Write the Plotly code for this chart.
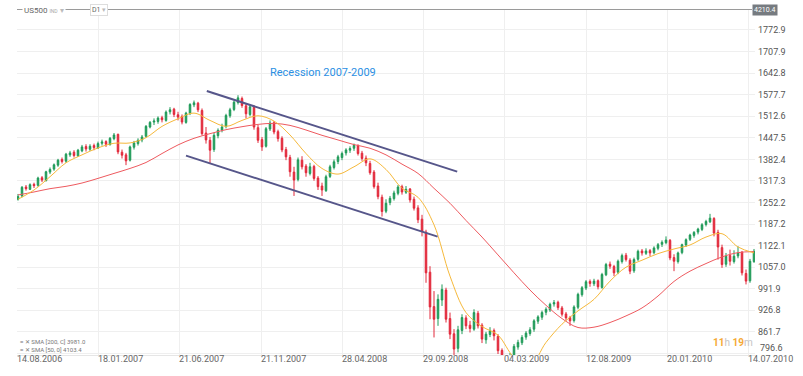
import plotly.graph_objects as go

W, H = 803, 376
L, R, T, B = 17, 48, 10, 21
PW = W - L - R
PH = H - T - B

opens = [1262,1272,1299,1292,1307,1304,1327,1318,1344,1353,
         1365,1382,1377,1396,1404,1393,1408,1421,1413,1424,
         1417,1431,1436,1427,1445,1458,1404,1396,1380,1419,
         1430,1441,1452,1480,1495,1497,1508,1500,1526,1534,
         1517,1512,1494,1521,1547,1552,1530,1462,1440,1412,
         1454,1471,1482,1514,1533,1554,1566,1544,1518,1540,
         1478,1442,1422,1474,1493,1466,1446,1412,1388,1344,
         1322,1380,1362,1340,1361,1326,1302,1288,1331,1358,
         1376,1388,1402,1410,1416,1424,1401,1386,1370,1344,
         1302,1268,1226,1252,1264,1280,1300,1283,1293,1262,
         1236,1202,1163,1042,938,902,958,988,902,856,
         812,866,904,882,870,918,882,838,854,866,
         848,806,762,742,788,816,829,846,857,870,
         894,906,921,928,946,951,934,916,905,896,
         936,974,994,1014,1007,1016,996,1034,1066,1059,
         1042,1074,1093,1078,1046,1081,1106,1099,1107,1101,
         1114,1126,1131,1138,1086,1074,1101,1124,1141,1153,
         1163,1171,1186,1194,1204,1162,1116,1066,1092,1074,
         1091,1102,1038,1016,1074]
highs = [1278,1302,1305,1310,1312,1330,1332,1348,1358,1370,
         1384,1388,1402,1408,1410,1414,1426,1428,1428,1430,
         1436,1442,1440,1450,1462,1460,1412,1402,1424,1438,
         1446,1456,1486,1498,1506,1512,1514,1530,1540,1538,
         1526,1518,1526,1552,1560,1556,1536,1480,1450,1462,
         1476,1490,1520,1538,1560,1576,1572,1550,1546,1545,
         1486,1450,1480,1500,1498,1472,1452,1420,1396,1360,
         1388,1392,1368,1372,1366,1332,1312,1336,1366,1382,
         1396,1406,1416,1422,1430,1428,1408,1394,1378,1350,
         1312,1276,1262,1272,1288,1305,1306,1302,1296,1270,
         1244,1215,1170,1060,985,975,1005,995,920,870,
         880,915,912,895,930,925,888,862,876,872,
         855,812,770,798,825,838,852,864,876,900,
         912,926,936,950,958,956,940,922,910,942,
         980,1000,1018,1020,1022,1020,1040,1070,1074,1064,
         1080,1098,1100,1084,1086,1110,1112,1114,1112,1120,
         1130,1138,1150,1142,1096,1104,1128,1144,1158,1166,
         1176,1190,1200,1218,1208,1170,1125,1100,1110,1108,
         1120,1106,1050,1082,1112]
lows = [1258,1268,1288,1290,1296,1300,1314,1316,1338,1348,
        1360,1370,1372,1390,1388,1390,1404,1406,1408,1410,
        1414,1424,1420,1424,1440,1398,1385,1365,1376,1412,
        1424,1434,1448,1476,1486,1490,1494,1496,1518,1510,
        1500,1488,1490,1516,1540,1525,1455,1430,1370,1405,
        1446,1464,1476,1508,1528,1548,1538,1506,1512,1472,
        1432,1408,1418,1468,1458,1436,1404,1380,1330,1272,
        1316,1352,1330,1334,1318,1290,1272,1284,1326,1352,
        1368,1380,1394,1402,1408,1394,1378,1362,1336,1294,
        1262,1210,1220,1244,1258,1274,1276,1278,1252,1228,
        1190,1150,1010,900,845,880,940,890,840,760,
        800,855,870,860,865,872,828,826,846,836,
        795,750,690,730,780,808,822,838,850,862,
        886,898,912,922,938,928,908,896,880,890,
        930,968,988,998,1000,990,992,1030,1052,1030,
        1036,1068,1074,1036,1040,1076,1092,1094,1090,1096,
        1108,1118,1126,1078,1045,1068,1096,1118,1136,1146,
        1156,1166,1180,1190,1150,1080,1055,1058,1062,1068,
        1084,1032,1005,1010,1070]
closes = [1270,1298,1294,1306,1303,1326,1320,1345,1352,1366,
          1380,1376,1398,1402,1394,1410,1420,1414,1422,1418,
          1430,1435,1428,1446,1456,1405,1395,1378,1420,1432,
          1440,1450,1482,1494,1498,1507,1502,1525,1532,1518,
          1510,1495,1522,1548,1553,1532,1460,1441,1410,1455,
          1470,1480,1515,1532,1555,1568,1545,1520,1541,1480,
          1440,1420,1475,1492,1465,1445,1411,1390,1345,1320,
          1381,1360,1342,1360,1325,1300,1290,1330,1360,1375,
          1390,1400,1411,1415,1425,1400,1385,1372,1342,1300,
          1270,1225,1250,1265,1281,1299,1284,1292,1260,1235,
          1200,1165,1040,937,900,960,990,900,855,810,
          868,905,880,872,920,880,840,855,865,850,
          805,760,740,790,818,830,845,858,868,895,
          907,920,930,945,950,935,915,904,895,937,
          975,995,1013,1008,1015,998,1035,1065,1060,1040,
          1075,1092,1080,1045,1080,1105,1100,1106,1100,1115,
          1125,1132,1139,1085,1075,1100,1125,1140,1154,1162,
          1172,1185,1195,1205,1160,1118,1065,1090,1075,1090,
          1100,1040,1015,1075,1105]

# SMA values sampled every 4 bars
sma200 = [1275,1284,1294,1301,1311,1325,1340,1355,1373,1400,
          1426,1446,1460,1472,1481,1488,1491,1485,1471,1455,
          1441,1427,1416,1396,1368,1340,1295,1250,1198,1148,
          1094,1040,988,942,902,875,876,890,910,934,
          970,1014,1045,1068,1088,1101,1104]
sma50 = [1262,1290,1330,1372,1396,1417,1431,1432,1448,1482,
         1505,1522,1500,1482,1500,1514,1498,1456,1400,1355,
         1338,1360,1384,1352,1295,1268,1185,1030,920,878,
         852,785,760,830,885,925,960,1015,1057,1078,
         1098,1112,1124,1148,1158,1118,1100]
sma_step = 4

date_labels = ["14.08.2006", "18.01.2007", "21.06.2007", "21.11.2007", "28.04.2008",
               "29.09.2008", "04.03.2009", "12.08.2009", "20.01.2010", "14.07.2010"]
date_pos = [-0.25, 20, 40.25, 60.75, 81, 101.25, 121.5, 142, 162.25, 182.5]

price_ticks = [796.6, 861.7, 926.8, 991.9, 1057.0, 1122.1, 1187.2, 1252.2,
               1317.3, 1382.4, 1447.5, 1512.6, 1577.7, 1642.8, 1707.9, 1772.9]

# channel lines (bar index, price)
upper_channel = [(47.2, 1588.8), (109.8, 1345.4)]
lower_channel = [(42.0, 1393.6), (104.9, 1149.2)]

N = len(closes)
xs = list(range(N))
sma_x = list(range(0, N, sma_step))

GREEN = "#1f9a58"
RED = "#e2283a"

fig = go.Figure()
fig.add_trace(go.Candlestick(
    x=xs, open=opens, high=highs, low=lows, close=closes,
    increasing=dict(line=dict(color=GREEN, width=1), fillcolor=GREEN),
    decreasing=dict(line=dict(color=RED, width=1), fillcolor=RED),
    whiskerwidth=0, showlegend=False, hoverinfo="skip"))
fig.add_trace(go.Scatter(x=sma_x, y=sma200, mode="lines",
                         line=dict(color="#ee5a5f", width=1, shape="spline"),
                         showlegend=False, hoverinfo="skip"))
fig.add_trace(go.Scatter(x=sma_x, y=sma50, mode="lines",
                         line=dict(color="#f6b93b", width=1, shape="spline"),
                         showlegend=False, hoverinfo="skip"))

for (x0, y0), (x1, y1) in (upper_channel, lower_channel):
    fig.add_shape(type="line", xref="x", yref="y", x0=x0, y0=y0, x1=x1, y1=y1,
                  line=dict(color="#56568a", width=2))


def px_x(px):
    return (px - L) / PW


def px_y(py):
    return (H - B - py) / PH


# top price line
fig.add_shape(type="line", xref="paper", yref="paper",
              x0=px_x(17), x1=px_x(752), y0=px_y(9.5), y1=px_y(9.5),
              line=dict(color="#9a9a9a", width=1), layer="above")

annotations = [
    dict(x=px_x(22), y=px_y(10), xref="paper", yref="paper", xanchor="left", yanchor="middle",
         text="US500 <span style='font-size:5px;color:#aaa'>IND</span> <span style='color:#bbb'>▾</span>",
         font=dict(size=8, color="#666", family="Roboto"), bgcolor="white", showarrow=False,
         borderpad=1),
    dict(x=px_x(90), y=px_y(10), xref="paper", yref="paper", xanchor="left", yanchor="middle",
         text="D1 <span style='color:#bbb'>▾</span>", font=dict(size=7, color="#666", family="Roboto"),
         bgcolor="white", bordercolor="#dddddd", borderwidth=1, borderpad=1, showarrow=False),
    dict(x=px_x(752), y=px_y(10), xref="paper", yref="paper", xanchor="left", yanchor="middle",
         text="4210.4", font=dict(size=7, color="white", family="Roboto"),
         bgcolor="#767b80", borderpad=1, showarrow=False),
    dict(x=px_x(323), y=px_y(73), xref="paper", yref="paper", xanchor="center", yanchor="middle",
         text="Recession 2007-2009", font=dict(size=11, color="#2b8fe3", family="Roboto"),
         showarrow=False),
    dict(x=px_x(755), y=px_y(342), xref="paper", yref="paper", xanchor="right", yanchor="middle",
         text="<b><span style='color:#f5a935'>11</span></b><span style='color:#c4c4c4'>h </span>"
              "<b><span style='color:#f5a935'>19</span></b><span style='color:#c4c4c4'>m</span>",
         font=dict(size=10, family="Roboto"), showarrow=False),
    dict(x=px_x(18), y=px_y(341.5), xref="paper", yref="paper", xanchor="left", yanchor="middle",
         text="≡ ✕ SMA [200, C] 3981.0", font=dict(size=6, color="#777", family="Roboto"),
         showarrow=False),
    dict(x=px_x(18), y=px_y(349), xref="paper", yref="paper", xanchor="left", yanchor="middle",
         text="≡ ✕ SMA [50, 0] 4103.4", font=dict(size=6, color="#777", family="Roboto"),
         showarrow=False),
    # lowest price label, lifted to stay clear of the date row
    dict(x=px_x(759), y=px_y(348), xref="paper", yref="paper", xanchor="left", yanchor="middle",
         text=f"{price_ticks[0]:.1f}", font=dict(size=9, color="#555", family="Roboto"),
         showarrow=False, borderpad=0),
]

# date labels, left-aligned at their gridlines
for pos, lab in zip(date_pos, date_labels):
    annotations.append(dict(x=pos, y=px_y(359), xref="x", yref="paper",
                            xanchor="left", yanchor="middle", xshift=-1,
                            text=lab, font=dict(size=9, color="#666", family="Roboto"),
                            showarrow=False, borderpad=0))

tick_text = [f"{v:.1f}" for v in price_ticks]
tick_text[0] = ""

fig.update_layout(
    width=W, height=H,
    margin=dict(l=L, r=R, t=T, b=B, pad=0),
    paper_bgcolor="white", plot_bgcolor="white",
    annotations=annotations,
    boxgap=0.45,
    font=dict(family="Roboto", size=9, color="#555"),
    xaxis=dict(
        range=[-0.25, N - 0.75], rangeslider=dict(visible=False),
        tickmode="array", tickvals=date_pos, ticktext=date_labels,
        showticklabels=False, ticks="",
        showgrid=True, gridcolor="#efefef", gridwidth=1,
        showline=True, linecolor="#e6e6e6", zeroline=False,
    ),
    yaxis=dict(
        side="right", range=[792, 1833.2],
        tickmode="array", tickvals=price_ticks, ticktext=tick_text,
        ticks="", ticklabelstandoff=2,
        showgrid=True, gridcolor="#efefef", gridwidth=1,
        zeroline=False, showline=False,
        tickfont=dict(size=9, color="#555"),
    ),
)

fig.write_html("out.html", config={"displayModeBar": False},
               post_script="document.body.style.margin='0px';document.body.style.overflow='hidden';")
